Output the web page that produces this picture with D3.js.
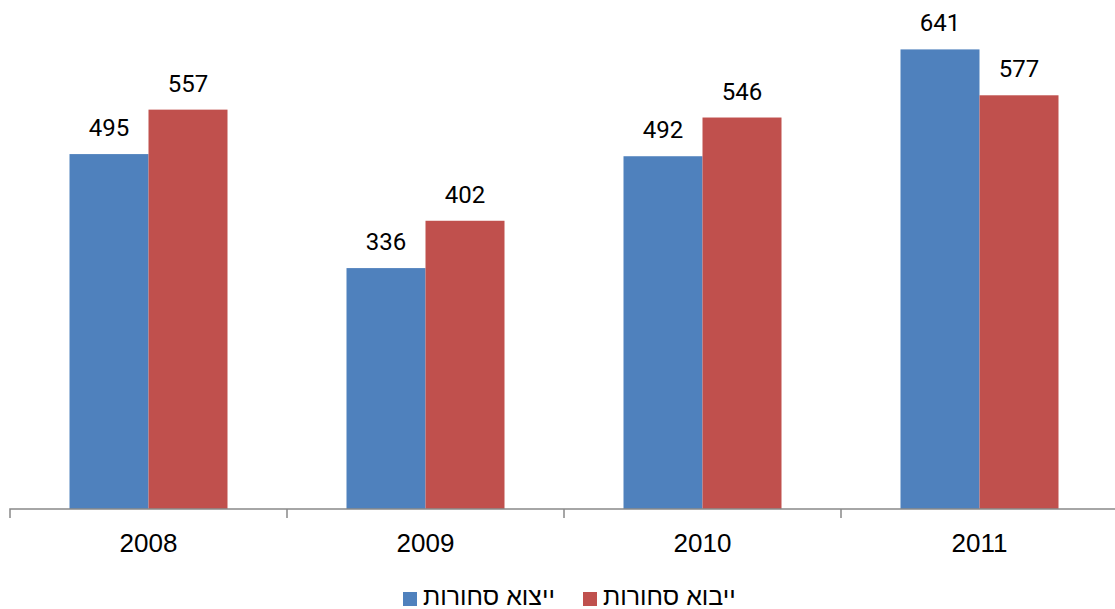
<!DOCTYPE html>
<html>
<head>
<meta charset="utf-8">
<script src="https://cdn.jsdelivr.net/npm/d3@7"></script>
<style>
  body { margin: 0; background: #fff; }
  svg { display: block; }
</style>
</head>
<body>
<div id="chart"></div>
<script>
// data
const years = ["2008", "2009", "2010", "2011"];
const exportsValues = [495, 336, 492, 641];
const importsValues = [557, 402, 546, 577];
const seriesNames = ["ייצוא סחורות", "ייבוא סחורות"];
const seriesColors = ["#4F81BD", "#C0504D"];

const W = 1115, H = 609;
const axisY = 509;

const svg = d3.select("#chart")
  .append("svg")
  .attr("width", W)
  .attr("height", H);

// scales
const x = d3.scaleBand()
  .domain(years)
  .range([10, 1118])
  .paddingInner(0)
  .paddingOuter(0);

const groupPad = 59.5;
const xs = d3.scaleBand()
  .domain([0, 1])
  .range([groupPad, x.bandwidth() - groupPad]);

const y = d3.scaleLinear()
  .domain([0, 700])
  .range([axisY, axisY - 700 * 0.717]);

const rows = years.map((yr, i) => ({
  year: yr,
  vals: [exportsValues[i], importsValues[i]]
}));

// bars
const groups = svg.selectAll(".grp")
  .data(rows)
  .enter()
  .append("g")
  .attr("class", "grp")
  .attr("transform", d => `translate(${x(d.year)},0)`);

groups.selectAll("rect")
  .data(d => d.vals.map((v, k) => ({ v, k })))
  .enter()
  .append("rect")
  .attr("x", d => xs(d.k))
  .attr("width", xs.bandwidth())
  .attr("y", d => y(d.v))
  .attr("height", d => axisY - y(d.v))
  .attr("fill", d => seriesColors[d.k]);

// value labels
groups.selectAll("text")
  .data(d => d.vals.map((v, k) => ({ v, k })))
  .enter()
  .append("text")
  .attr("x", d => xs(d.k) + xs.bandwidth() / 2)
  .attr("y", d => y(d.v) - 18)
  .attr("text-anchor", "middle")
  .style("font-family", "Roboto, sans-serif")
  .style("font-size", "24px")
  .style("fill", "#000")
  .text(d => d.v);

// x axis
const axis = svg.append("g")
  .attr("transform", `translate(0,${axisY})`)
  .call(d3.axisBottom(x).tickSize(0).tickFormat(""));

axis.select(".domain")
  .attr("stroke", "#898989")
  .attr("stroke-width", 1.5)
  .attr("d", `M10,9V0H1118`);

axis.selectAll(".tick").remove();

axis.selectAll(".sep")
  .data(years.slice(1))
  .enter()
  .append("line")
  .attr("x1", d => x(d))
  .attr("x2", d => x(d))
  .attr("y1", 0)
  .attr("y2", 9)
  .attr("stroke", "#898989")
  .attr("stroke-width", 1.5);

svg.selectAll(".year-label")
  .data(years)
  .enter()
  .append("text")
  .attr("class", "year-label")
  .attr("x", d => x(d) + x.bandwidth() / 2)
  .attr("y", 552)
  .attr("text-anchor", "middle")
  .style("font-family", "Liberation Sans, Arial, sans-serif")
  .style("font-size", "26px")
  .style("fill", "#000")
  .text(d => d);

// legend
const legendX = [403, 583];
const legend = svg.selectAll(".legend")
  .data(seriesNames)
  .enter()
  .append("g")
  .attr("class", "legend")
  .attr("transform", (d, i) => `translate(${legendX[i]},592)`);

legend.append("rect")
  .attr("width", 14)
  .attr("height", 14)
  .attr("fill", (d, i) => seriesColors[i]);

legend.append("text")
  .attr("x", 20)
  .attr("y", 13)
  .style("font-family", "Liberation Sans, Arial, sans-serif")
  .style("font-size", "25px")
  .style("fill", "#000")
  .text(d => d);
</script>
</body>
</html>
